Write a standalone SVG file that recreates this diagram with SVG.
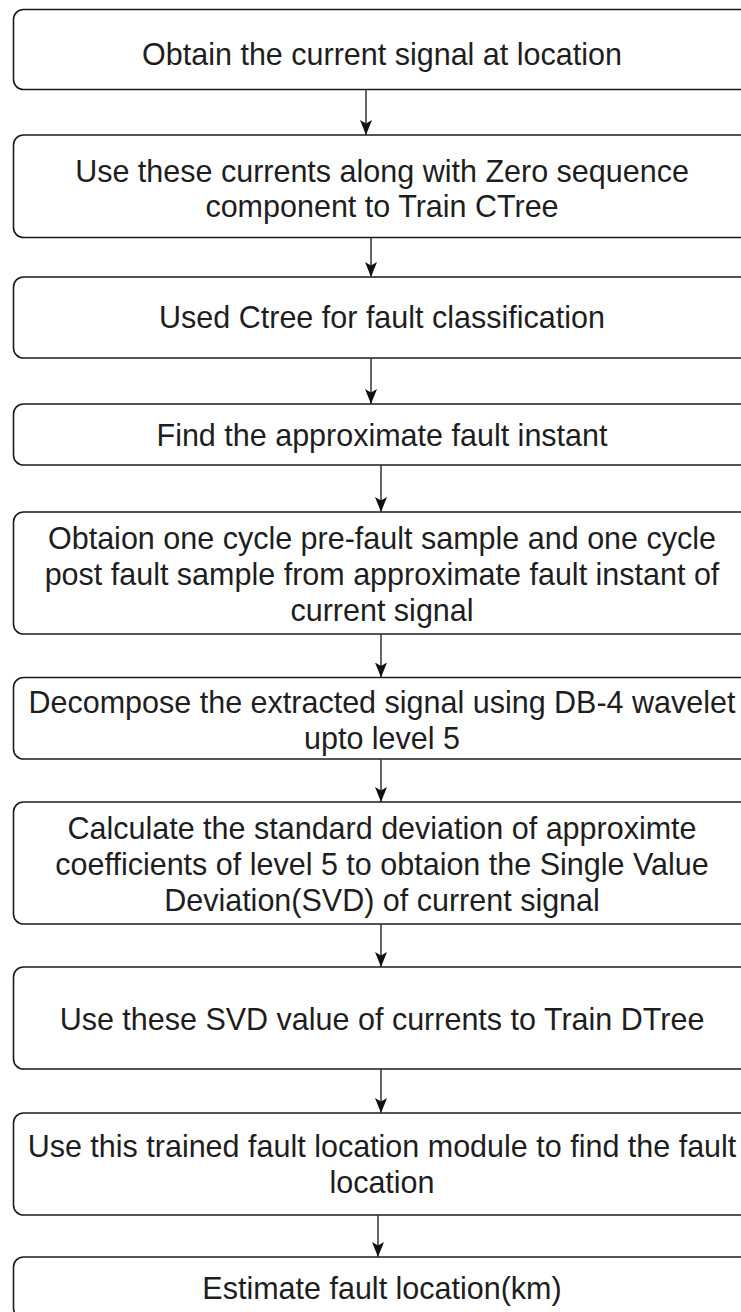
<svg xmlns="http://www.w3.org/2000/svg" width="741" height="1312" viewBox="0 0 741 1312">
  <style>
    .box { fill: #ffffff; stroke: #1c1c1c; stroke-width: 1.6; }
    .lbl { font-family: "Liberation Sans", Arial, sans-serif; font-size: 30.5px; fill: #1e1e1e; text-anchor: middle; }
    .conn { stroke: #333333; stroke-width: 1.5; fill: none; }
  </style>
  <defs>
    <marker id="arr" markerUnits="userSpaceOnUse" markerWidth="15" markerHeight="12" viewBox="0 0 15 12" refX="15" refY="6" orient="auto">
      <path d="M0,0 L15,6 L0,12 L3.5,6 Z" fill="#111111"/>
    </marker>
  </defs>
  <rect x="0" y="0" width="741" height="1312" fill="#ffffff"/>

  <g id="n1">
    <rect class="box" x="13.5" y="9.5" width="737" height="80" rx="10"/>
    <text class="lbl" x="382" y="65">Obtain the current signal at location</text>
  </g>
  <g id="n2">
    <rect class="box" x="13.5" y="135" width="737" height="102.5" rx="10"/>
    <text class="lbl" x="382" y="182">Use these currents along with Zero sequence</text>
    <text class="lbl" x="382" y="217">component to  Train CTree</text>
  </g>
  <g id="n3">
    <rect class="box" x="13.5" y="277" width="737" height="81" rx="10"/>
    <text class="lbl" x="382" y="328">Used Ctree for fault classification</text>
  </g>
  <g id="n4">
    <rect class="box" x="13.5" y="404" width="737" height="61" rx="10"/>
    <text class="lbl" x="382" y="446">Find the approximate fault instant</text>
  </g>
  <g id="n5">
    <rect class="box" x="13.5" y="512" width="737" height="122" rx="10"/>
    <text class="lbl" x="382" y="549">Obtaion one cycle pre-fault sample and one cycle</text>
    <text class="lbl" x="382" y="585">post fault sample from approximate fault instant of</text>
    <text class="lbl" x="382" y="621">current signal</text>
  </g>
  <g id="n6">
    <rect class="box" x="13.5" y="677.5" width="737" height="81.5" rx="10"/>
    <text class="lbl" x="382" y="713">Decompose the extracted signal using DB-4 wavelet</text>
    <text class="lbl" x="382" y="749">upto level 5</text>
  </g>
  <g id="n7">
    <rect class="box" x="13.5" y="802" width="737" height="122" rx="10"/>
    <text class="lbl" x="382" y="839">Calculate the standard deviation of approximte</text>
    <text class="lbl" x="382" y="875">coefficients of level 5 to obtaion the Single Value</text>
    <text class="lbl" x="382" y="911">Deviation(SVD) of current signal</text>
  </g>
  <g id="n8">
    <rect class="box" x="13.5" y="967" width="737" height="102" rx="10"/>
    <text class="lbl" x="382" y="1030">Use these SVD value of currents to Train DTree</text>
  </g>
  <g id="n9">
    <rect class="box" x="13.5" y="1113" width="737" height="102" rx="10"/>
    <text class="lbl" x="382" y="1157">Use this trained fault location module to find the fault</text>
    <text class="lbl" x="382" y="1193">location</text>
  </g>
  <g id="n10">
    <rect class="box" x="13.5" y="1257" width="737" height="61" rx="10"/>
    <text class="lbl" x="382" y="1299">Estimate fault location(km)</text>
  </g>

  <g id="connectors">
    <line class="conn" x1="366" y1="89.5" x2="366" y2="135" marker-end="url(#arr)"/>
    <line class="conn" x1="371" y1="237.5" x2="371" y2="277" marker-end="url(#arr)"/>
    <line class="conn" x1="371" y1="358" x2="371" y2="404" marker-end="url(#arr)"/>
    <line class="conn" x1="381" y1="465" x2="381" y2="512" marker-end="url(#arr)"/>
    <line class="conn" x1="381" y1="634" x2="381" y2="677.5" marker-end="url(#arr)"/>
    <line class="conn" x1="381" y1="759" x2="381" y2="802" marker-end="url(#arr)"/>
    <line class="conn" x1="381" y1="924" x2="381" y2="967" marker-end="url(#arr)"/>
    <line class="conn" x1="381" y1="1069" x2="381" y2="1113" marker-end="url(#arr)"/>
    <line class="conn" x1="378" y1="1215" x2="378" y2="1257" marker-end="url(#arr)"/>
  </g>
</svg>
